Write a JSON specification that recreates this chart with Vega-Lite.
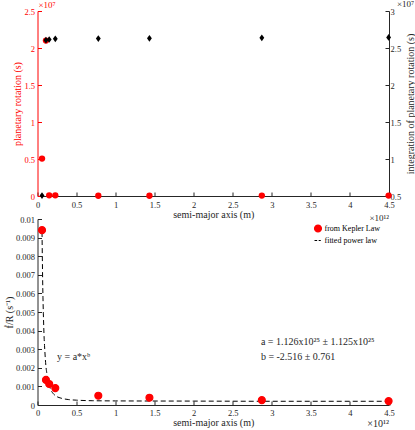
{
  "$schema": "https://vega.github.io/schema/vega-lite/v6.json",
  "background": "white",
  "padding": {"left": 4.5, "top": 0, "right": 0, "bottom": 0},
  "spacing": 23,
  "bounds": "flush",
  "config": {
    "font": "Liberation Serif",
    "view": {"stroke": null},
    "axis": {
      "labelFont": "Liberation Serif", "titleFont": "Liberation Serif", "labelFontSize": 8.5, "titleFontSize": 10,
      "titleFontWeight": "normal", "grid": false, "tickSize": -4, "labelPadding": 7,
      "labelOverlap": false, "labelFlush": false, "labelBound": false,
      "domainColor": "#262626", "tickColor": "#262626", "labelColor": "#262626", "titleColor": "#262626",
      "domainWidth": 1, "tickWidth": 1
    }
  },
  "vconcat": [
    {
      "width": 351.5,
      "height": 185,
      "encoding": {
        "x": {"field": "a", "type": "quantitative",
          "scale": {"domain": [0, 4.5e12], "nice": false, "zero": false},
          "axis": {"title": "semi-major axis (m)", "values": [0, 5e11, 1e12, 1.5e12, 2e12, 2.5e12, 3e12, 3.5e12, 4e12, 4.5e12],
            "labelExpr": "format(datum.value / 1e12, '~g')", "labelPadding": 8, "titlePadding": 1, "labelOverlap": false, "tickSize": -4,
            "labelFont": "Liberation Serif", "titleFont": "Liberation Serif", "titleFontWeight": "normal", "labelFontSize": 8.5, "titleFontSize": 10}}
      },
      "layer": [
        {
          "data": {"values": [
            {"planet": "Mercury", "a": 5.79e10, "rot": 5.06e6},
            {"planet": "Venus", "a": 1.082e11, "rot": 2.1e7},
            {"planet": "Earth", "a": 1.496e11, "rot": 8.6e4},
            {"planet": "Mars", "a": 2.279e11, "rot": 8.9e4},
            {"planet": "Jupiter", "a": 7.785e11, "rot": 3.6e4},
            {"planet": "Saturn", "a": 1.433e12, "rot": 3.8e4},
            {"planet": "Uranus", "a": 2.872e12, "rot": 6.2e4},
            {"planet": "Neptune", "a": 4.495e12, "rot": 5.8e4},
            {"planet": "xlabel", "a": 4.5e12, "rot": -2.8e6, "label": "×10¹²"},
            {"planet": "ylabel", "a": 0, "rot": 2.5e7, "label": "×10⁷"}
          ]},
          "encoding": {
            "y": {"field": "rot", "type": "quantitative",
              "scale": {"domain": [0, 2.5e7], "nice": false},
              "axis": {"orient": "left", "title": "planetary rotation (s)",
                "values": [0, 5e6, 1e7, 1.5e7, 2e7, 2.5e7],
                "labelExpr": "format(datum.value / 1e7, '~g')", "labelOverlap": false, "tickSize": -4,
                "titleX": -20.5, "titleY": 92.5, "titleAlign": "center", "titleBaseline": "middle", "titleAngle": 270,
                "labelFont": "Liberation Serif", "titleFont": "Liberation Serif", "titleFontWeight": "normal", "labelFontSize": 8.5, "titleFontSize": 10,
                "domainColor": "#ff0000", "tickColor": "#ff0000", "labelColor": "#ff0000", "titleColor": "#ff0000"}}
          },
          "layer": [
            {
              "transform": [{"filter": "!datum.label"}],
              "mark": {"type": "point", "filled": true, "shape": "circle", "size": 40, "color": "#ff0000", "opacity": 1}
            },
            {
              "transform": [{"filter": "datum.planet === 'ylabel'"}],
              "mark": {"type": "text", "align": "left", "baseline": "middle", "dy": -6, "dx": 1, "font": "Liberation Serif", "fontSize": 9, "color": "#ff0000"},
              "encoding": {"text": {"field": "label"}}
            },
            {
              "transform": [{"filter": "datum.planet === 'xlabel'"}],
              "mark": {"type": "text", "align": "right", "baseline": "middle", "dy": 1, "font": "Liberation Serif", "fontSize": 9, "color": "#262626"},
              "encoding": {"text": {"field": "label"}}
            }
          ]
        },
        {
          "data": {"values": [
            {"planet": "Mercury", "a": 5.79e10, "cum": 5.06e6},
            {"planet": "Venus", "a": 1.082e11, "cum": 2.606e7},
            {"planet": "Earth", "a": 1.496e11, "cum": 2.615e7},
            {"planet": "Mars", "a": 2.279e11, "cum": 2.624e7},
            {"planet": "Jupiter", "a": 7.785e11, "cum": 2.627e7},
            {"planet": "Saturn", "a": 1.433e12, "cum": 2.631e7},
            {"planet": "Uranus", "a": 2.872e12, "cum": 2.637e7},
            {"planet": "Neptune", "a": 4.495e12, "cum": 2.643e7},
            {"planet": "ylabel", "a": 4.5e12, "cum": 3e7, "label": "×10⁷"}
          ]},
          "encoding": {
            "y": {"field": "cum", "type": "quantitative",
              "scale": {"domain": [5e6, 3e7], "nice": false, "zero": false},
              "axis": {"orient": "right", "title": "integration of planetary rotation (s)",
                "values": [5e6, 1e7, 1.5e7, 2e7, 2.5e7, 3e7],
                "labelExpr": "format(datum.value / 1e7, '~g')", "labelPadding": 5,
                "titleX": 21, "titleY": 92.5, "titleAlign": "center", "titleBaseline": "middle", "titleAngle": 270,
                "labelOverlap": false, "tickSize": -4,
                "labelFont": "Liberation Serif", "titleFont": "Liberation Serif", "titleFontWeight": "normal", "labelFontSize": 8.5, "titleFontSize": 10}}
          },
          "layer": [
            {
              "transform": [{"filter": "!datum.label"}],
              "mark": {"type": "point", "filled": true, "shape": "M0,-1L0.72,0L0,1L-0.72,0Z", "size": 45, "color": "#000000", "opacity": 1}
            },
            {
              "transform": [{"filter": "datum.planet === 'ylabel'"}],
              "mark": {"type": "text", "align": "left", "baseline": "middle", "dy": -7, "dx": 8, "font": "Liberation Serif", "fontSize": 9, "color": "#262626"},
              "encoding": {"text": {"field": "label"}}
            }
          ]
        }
      ],
      "resolve": {"scale": {"y": "independent"}, "axis": {"y": "independent"}}
    },
    {
      "width": 351.5,
      "height": 186,
      "encoding": {
        "x": {"field": "a", "type": "quantitative",
          "scale": {"domain": [0, 4.5e12], "nice": false, "zero": false},
          "axis": {"title": "semi-major axis (m)", "values": [0, 5e11, 1e12, 1.5e12, 2e12, 2.5e12, 3e12, 3.5e12, 4e12, 4.5e12],
            "labelExpr": "format(datum.value / 1e12, '~g')", "titlePadding": 1, "labelOverlap": false, "tickSize": -4,
            "labelFont": "Liberation Serif", "titleFont": "Liberation Serif", "titleFontWeight": "normal", "labelFontSize": 8.5, "titleFontSize": 10}},
        "y": {"field": "v", "type": "quantitative",
          "scale": {"domain": [0, 0.01], "nice": false},
          "axis": {"title": "ḟ/R (s⁻¹)", "values": [0, 0.001, 0.002, 0.003, 0.004, 0.005, 0.006, 0.007, 0.008, 0.009, 0.01],
            "labelExpr": "format(datum.value, '~g')", "labelOverlap": false, "tickSize": -4,
            "titleX": -28, "titleY": 93, "titleAlign": "center", "titleBaseline": "middle", "titleAngle": 270,
            "labelFont": "Liberation Serif", "titleFont": "Liberation Serif", "titleFontWeight": "normal", "labelFontSize": 8.5, "titleFontSize": 10}}
      },
      "layer": [
        {
          "data": {"values": [
            {"a": 5.8e10, "v": 0.0093},
            {"a": 6.2e10, "v": 0.0079},
            {"a": 6.6e10, "v": 0.0067},
            {"a": 7.0e10, "v": 0.0058},
            {"a": 7.5e10, "v": 0.0049},
            {"a": 8.0e10, "v": 0.0042},
            {"a": 8.5e10, "v": 0.0036},
            {"a": 9.0e10, "v": 0.0032},
            {"a": 1.0e11, "v": 0.0025},
            {"a": 1.1e11, "v": 0.0020},
            {"a": 1.2e11, "v": 0.0017},
            {"a": 1.3e11, "v": 0.0014},
            {"a": 1.4e11, "v": 0.0012},
            {"a": 1.5e11, "v": 0.00105},
            {"a": 1.7e11, "v": 0.00082},
            {"a": 2.0e11, "v": 0.00062},
            {"a": 2.4e11, "v": 0.00047},
            {"a": 3.0e11, "v": 0.00037},
            {"a": 4.0e11, "v": 0.00029},
            {"a": 5.0e11, "v": 0.00026},
            {"a": 7.0e11, "v": 0.00023},
            {"a": 1.0e12, "v": 0.00022},
            {"a": 2.0e12, "v": 0.00021},
            {"a": 3.0e12, "v": 0.0002},
            {"a": 4.5e12, "v": 0.0002}
          ]},
          "mark": {"type": "line", "color": "#000000", "strokeWidth": 1, "strokeDash": [5, 3], "interpolate": "monotone"}
        },
        {
          "data": {"values": [
            {"planet": "Mercury", "a": 5.79e10, "v": 0.0094, "series": "from Kepler Law"},
            {"planet": "Venus", "a": 1.082e11, "v": 0.00135, "series": "from Kepler Law"},
            {"planet": "Earth", "a": 1.496e11, "v": 0.00113, "series": "from Kepler Law"},
            {"planet": "Mars", "a": 2.279e11, "v": 0.00091, "series": "from Kepler Law"},
            {"planet": "Jupiter", "a": 7.785e11, "v": 0.0005, "series": "from Kepler Law"},
            {"planet": "Saturn", "a": 1.433e12, "v": 0.00039, "series": "from Kepler Law"},
            {"planet": "Uranus", "a": 2.872e12, "v": 0.00026, "series": "from Kepler Law"},
            {"planet": "Neptune", "a": 4.495e12, "v": 0.00021, "series": "from Kepler Law"}
          ]},
          "mark": {"type": "point", "filled": true, "size": 48, "fill": "#ff0000", "opacity": 1, "strokeWidth": 1.2},
          "encoding": {
            "stroke": {"field": "series", "type": "nominal",
              "scale": {"domain": ["from Kepler Law", "fitted power law"], "range": ["#ff0000", "#000000"]},
              "legend": {"title": null, "orient": "none", "legendX": 276, "legendY": 213,
                "labelFont": "Liberation Serif", "labelFontSize": 8, "labelColor": "#000000",
                "symbolSize": 48, "rowPadding": 1, "labelOffset": 2, "symbolStrokeWidth": 1.2, "symbolFillColor": "#ff0000"}},
            "shape": {"field": "series", "type": "nominal",
              "scale": {"domain": ["from Kepler Law", "fitted power law"], "range": ["circle", "M-1,0H-0.25M0.2,0H0.8"]},
              "legend": {"title": null, "orient": "none", "legendX": 276, "legendY": 213,
                "labelFont": "Liberation Serif", "labelFontSize": 8, "labelColor": "#000000",
                "symbolSize": 48, "rowPadding": 1, "labelOffset": 2, "symbolStrokeWidth": 1.2, "symbolFillColor": "#ff0000"}}
          }
        },
        {
          "data": {"values": [
            {"a": 2.5e11, "v": 0.00258, "label": "y = a*xᵇ"},
            {"a": 2.86e12, "v": 0.00337, "label": "a =  1.126x10²⁵ ± 1.125x10²⁵"},
            {"a": 2.86e12, "v": 0.0026, "label": "b = -2.516 ± 0.761"},
            {"a": 4.5e12, "v": -0.00102, "label": "×10¹²"}
          ]},
          "mark": {"type": "text", "align": {"expr": "datum.label === '×10¹²' ? 'right' : 'left'"}, "baseline": "middle", "font": "Liberation Serif", "fontSize": 10, "color": "#262626"},
          "encoding": {
            "text": {"field": "label"}
          }
        }
      ]
    }
  ]
}
